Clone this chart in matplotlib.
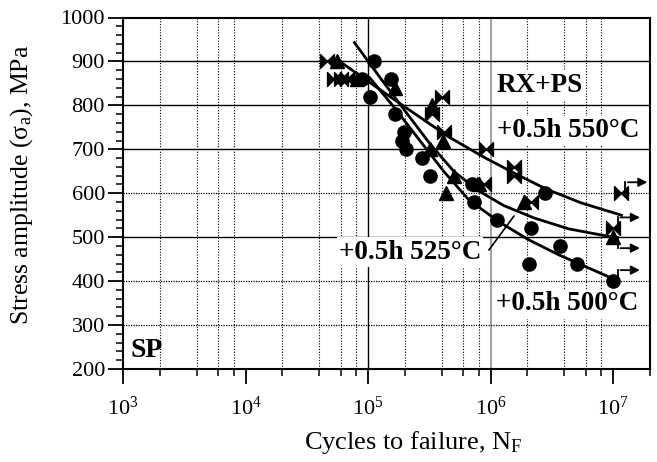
import matplotlib
matplotlib.use('Agg')
import matplotlib.pyplot as plt
from matplotlib.path import Path
from matplotlib.ticker import LogLocator, MultipleLocator, NullFormatter, FixedLocator

plt.rcParams['font.family'] = ['Liberation Serif', 'DejaVu Serif']
plt.rcParams['mathtext.default'] = 'regular'

# ---- data ----
circ_N = [1.12e5, 9.0e4, 1.03e5, 1.55e5, 1.66e5, 1.97e5, 1.9e5, 2.04e5, 2.76e5, 3.2e5,
          7.1e5, 7.35e5, 1.12e6, 2.14e6, 2.8e6, 2.05e6, 3.7e6, 5.1e6, 1.0e7]
circ_S = [900, 860, 820, 860, 780, 740, 720, 700, 680, 640,
          620, 580, 540, 520, 600, 440, 480, 440, 400]

tri_N = [5.6e4, 8.1e4, 1.65e5, 3.3e5, 4.1e5, 3.2e5, 5.0e5, 4.35e5, 8.0e5, 1.87e6, 1.0e7]
tri_S = [900, 860, 840, 800, 720, 700, 640, 600, 620, 580, 500]

bow_N = [4.6e4, 5.3e4, 6.0e4, 6.7e4, 4.0e5, 3.3e5, 4.2e5, 9.1e5, 8.8e5, 1.55e6, 1.55e6,
         2.15e6, 1.0e7, 1.15e7]
bow_S = [900, 860, 860, 860, 820, 780, 740, 700, 620, 660, 640, 580, 520, 600]

fit550_N = [5.6e4, 1.78e5, 4.57e5, 9.1e5, 1.58e6, 2.82e6, 5.5e6, 1.17e7]
fit550_S = [904, 806, 728, 680, 645, 610, 578, 550]

fit525_N = [7.74e4, 1.24e5, 1.97e5, 3.15e5, 5.04e5, 8.04e5, 1.28e6, 2.25e6, 4.34e6, 9.5e6]
fit525_S = [943, 865, 790, 715, 649, 605, 572, 544, 519, 501]

fit500_N = [1.03e5, 1.64e5, 2.61e5, 4.17e5, 6.65e5, 1.17e6, 2.05e6, 3.59e6, 6.30e6, 9.7e6]
fit500_S = [863, 795, 722, 649, 585, 535, 494, 460, 430, 407]

runout_N = [1.15e7, 1.0e7, 1.0e7, 1.0e7]
runout_S = [600, 520, 500, 400]
runout_dir = [1, 1, -1, 1]

y_ticks = [200, 300, 400, 500, 600, 700, 800, 900, 1000]
grid_solid_y = [500, 700, 800, 900]
grid_dotted_y = [300, 400, 600]

# ---- figure ----
fig = plt.figure(figsize=(6.57, 4.62), dpi=100)
ax = fig.add_axes([123/657, 1 - 369/462, (650 - 123)/657, (369 - 17.5)/462])
ax.set_xscale('log')
ax.set_xlim(1e3, 2e7)
ax.set_ylim(200, 1000)

# grid
ax.xaxis.set_minor_locator(LogLocator(base=10, subs=[2, 4, 6, 8], numticks=20))
ax.xaxis.set_minor_formatter(NullFormatter())
ax.xaxis.grid(True, which='minor', color='k', ls=(0, (1, 1.5)), lw=0.8)
ax.axvline(1e5, color='k', lw=1.0, zorder=1)
ax.axvline(1e6, color='0.6', lw=1.3, zorder=1)
for yv in grid_solid_y:
    ax.axhline(yv, color='k', lw=1.0, zorder=1)
for yv in grid_dotted_y:
    ax.axhline(yv, color='k', lw=0.9, ls=(0, (1, 1)), zorder=1)
ax.set_axisbelow(True)

# ticks
ax.xaxis.set_major_locator(LogLocator(base=10, numticks=20))
ax.yaxis.set_major_locator(FixedLocator(y_ticks))
ax.yaxis.set_minor_locator(MultipleLocator(20))
ax.tick_params(axis='both', which='major', direction='out', length=11, width=1.3,
               labelsize=16, colors='k')
ax.tick_params(axis='both', which='minor', direction='out', length=5, width=1.1)
ax.tick_params(axis='x', which='major', pad=9)
ax.tick_params(axis='y', which='major', pad=2)
for sp in ax.spines.values():
    sp.set_linewidth(1.5)

# curves
ax.plot(fit550_N, fit550_S, color='k', lw=2.0, zorder=3)
ax.plot(fit525_N, fit525_S, color='k', lw=2.0, zorder=3)
ax.plot(fit500_N, fit500_S, color='k', lw=2.0, zorder=3)

# markers
bow = Path([(-1, 1), (-1, -1), (0, 0), (-1, 1), (1, 1), (1, -1), (0, 0), (1, 1)],
           [Path.MOVETO, Path.LINETO, Path.LINETO, Path.CLOSEPOLY,
            Path.MOVETO, Path.LINETO, Path.LINETO, Path.CLOSEPOLY])
ax.plot(circ_N, circ_S, 'o', color='k', ms=9.5, ls='none', zorder=4)
ax.plot(tri_N, tri_S, '^', color='k', ms=9.5, ls='none', zorder=4)
ax.plot(bow_N, bow_S, marker=bow, color='k', ms=10, ls='none', zorder=4)

# run-out arrows
for n, s, d in zip(runout_N, runout_S, runout_dir):
    x0 = n * 1.09
    y1 = s + 25 * d
    ax.plot([x0, x0], [s, y1], color='k', lw=1.3, zorder=4, clip_on=False)
    ax.annotate('', xy=(x0 * 1.6, y1), xytext=(x0, y1),
                arrowprops=dict(arrowstyle='-|>', color='k', lw=1.3, mutation_scale=13),
                annotation_clip=False, zorder=4)

# labels
bb = dict(facecolor='white', edgecolor='none', pad=1.5)
ax.text(2.5e6, 845, 'RX+PS', fontsize=19.5, fontweight='bold', ha='center', va='center',
        bbox=bb, zorder=5)
ax.text(4.3e6, 742, '+0.5h 550°C', fontsize=19.5, fontweight='bold', ha='center',
        va='center', bbox=bb, zorder=5)
ax.text(2.2e5, 466, '+0.5h 525°C', fontsize=19.5, fontweight='bold', ha='center',
        va='center', bbox=bb, zorder=5)
ax.text(4.2e6, 348, '+0.5h 500°C', fontsize=19.5, fontweight='bold', ha='center',
        va='center', bbox=bb, zorder=5)
ax.text(1.15e3, 243, 'SP', fontsize=20, fontweight='bold', ha='left', va='center', zorder=5)
ax.plot([9.7e5, 1.55e6], [471, 548], color='k', lw=1.2, zorder=5)

ax.set_xlabel('Cycles to failure, N$_F$', fontsize=19)
ax.set_ylabel('Stress amplitude (σ$_a$), MPa', fontsize=18.5)
ax.xaxis.set_label_coords(0.551, -0.172)
ax.yaxis.set_label_coords(-0.167, 0.523)

fig.savefig('out.png', dpi=100)
